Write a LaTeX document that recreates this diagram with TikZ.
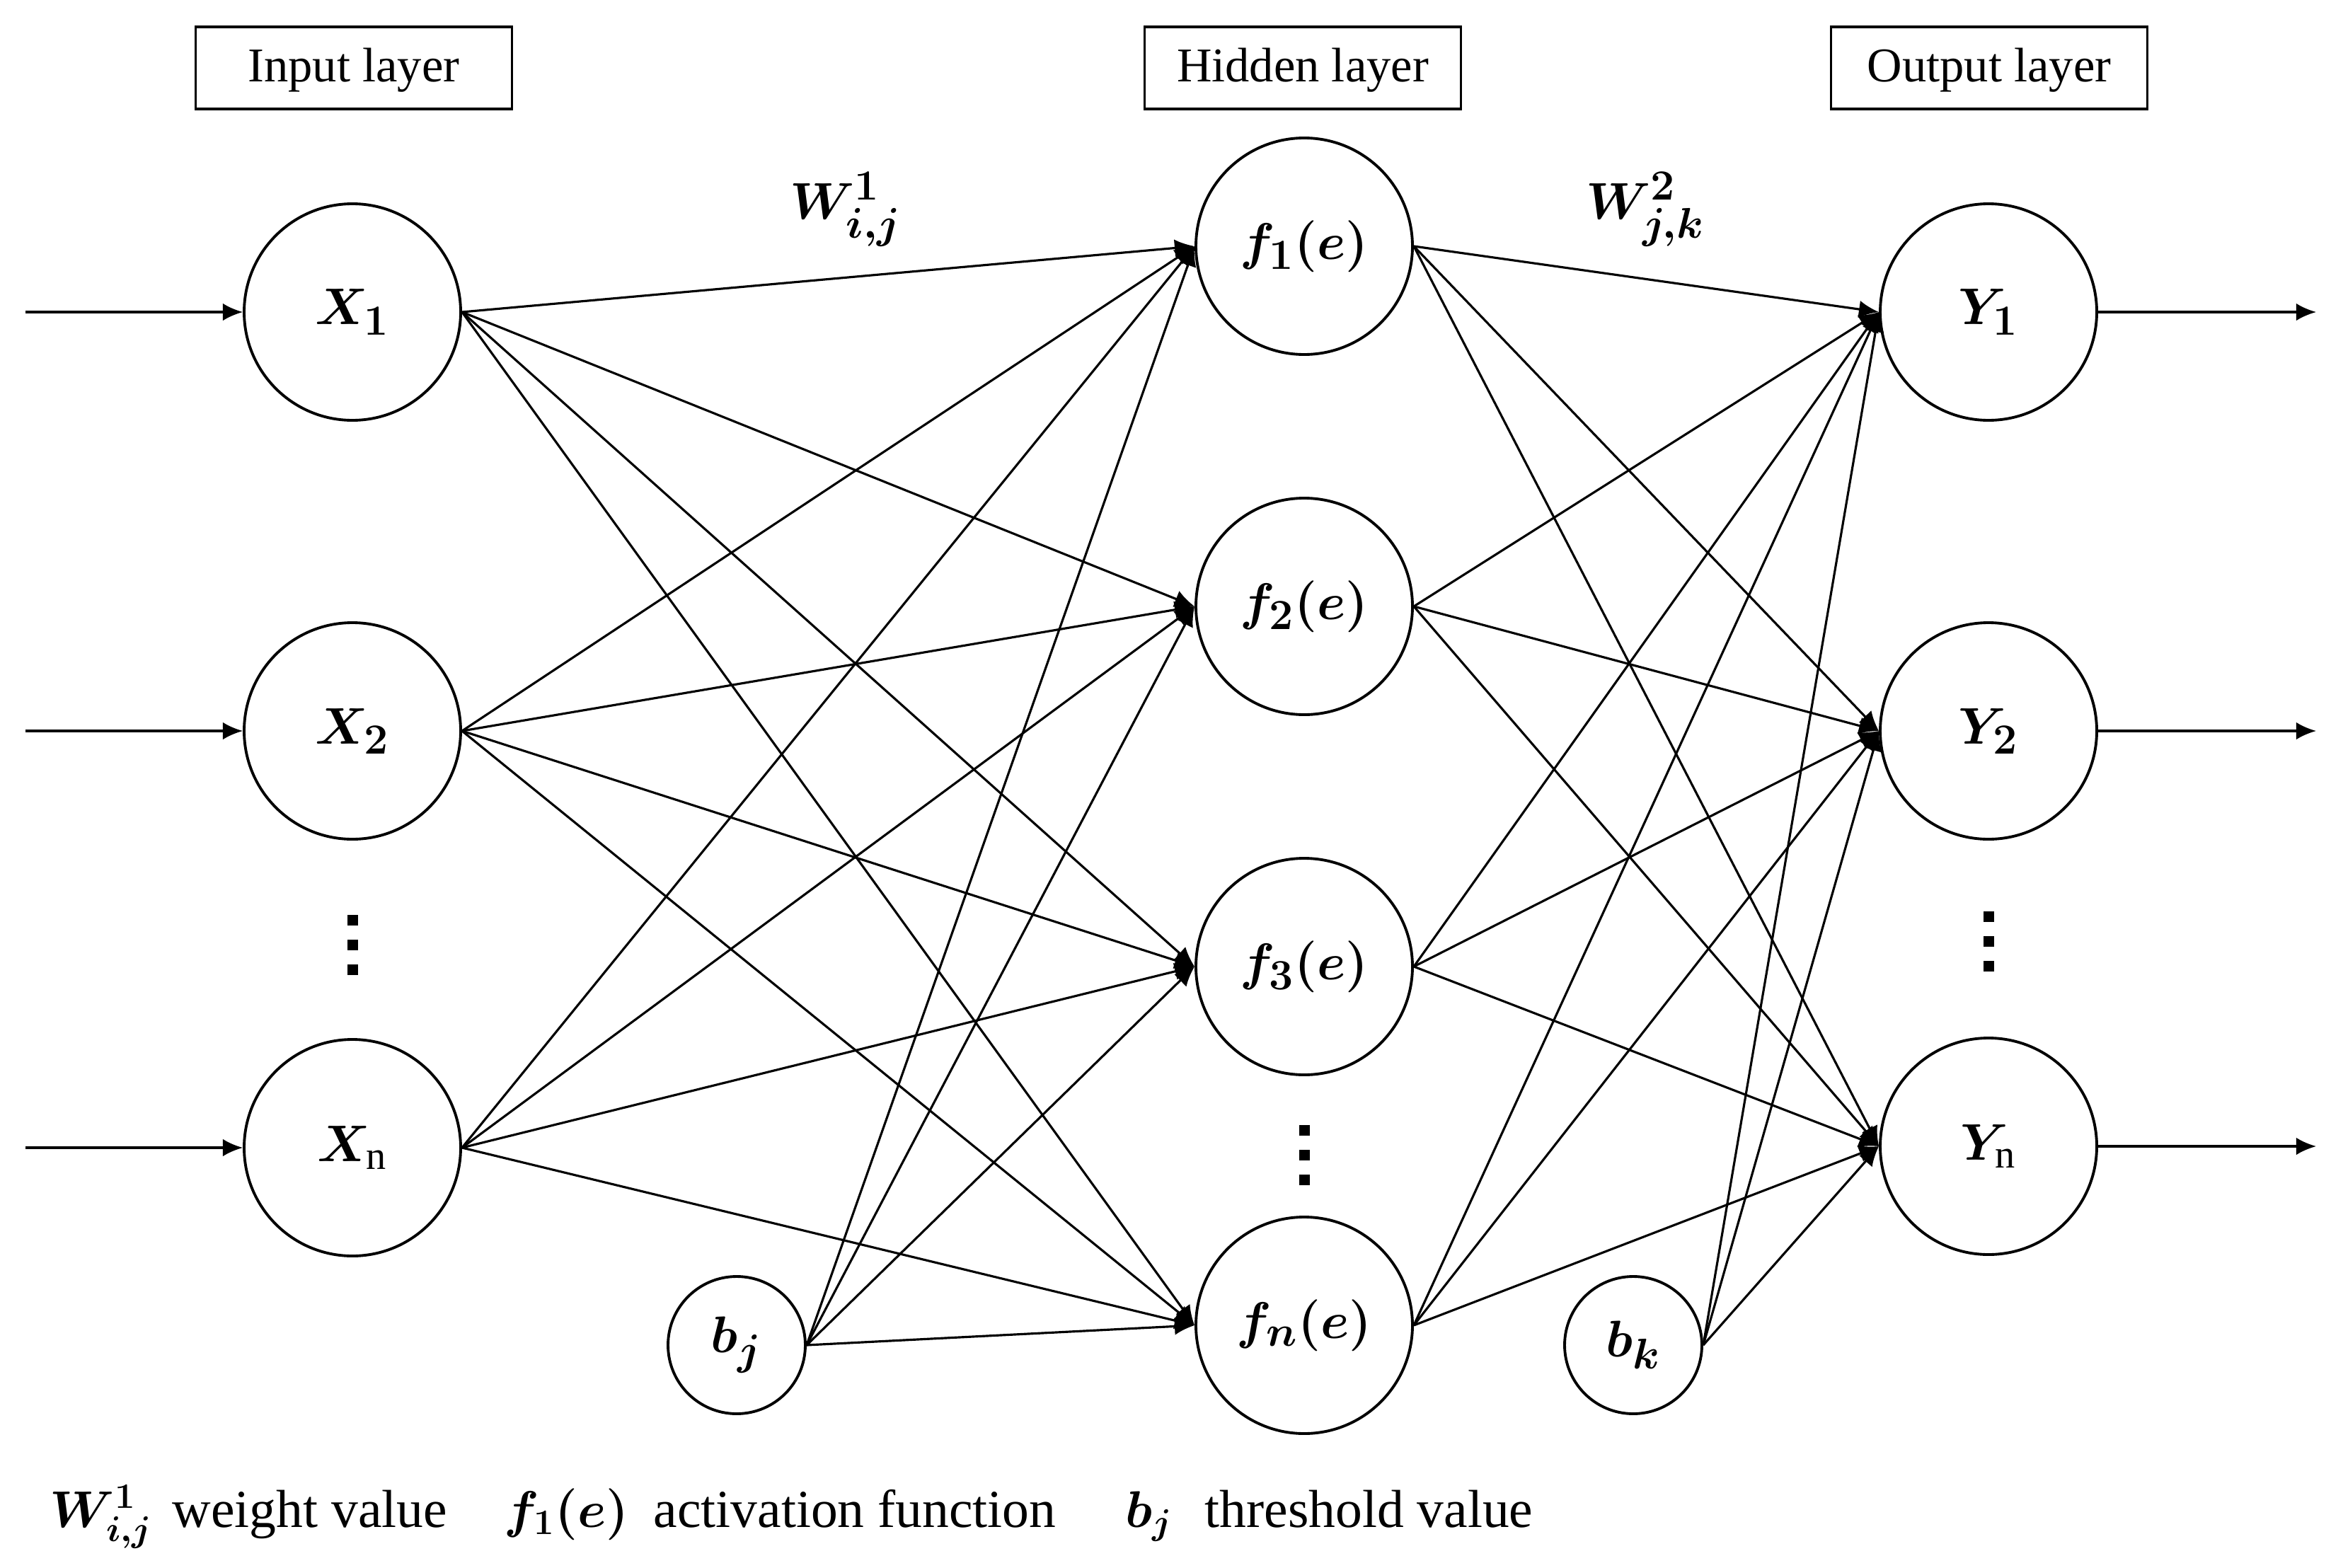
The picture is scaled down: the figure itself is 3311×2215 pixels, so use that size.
\documentclass[tikz,border=0pt]{standalone}
\usepackage{fontspec}
\setmainfont{Liberation Serif}
\usepackage{amsmath}
\usepackage{bm}
\DeclareMathSizes{22}{22}{16}{12}
\DeclareMathSizes{21.5}{21.5}{15.5}{11}
\usetikzlibrary{arrows.meta}
\begin{document}
\begin{tikzpicture}[x=0.1mm,y=-0.1mm,
  neuron/.style={draw,circle,line width=1.1pt,minimum size=30.6mm,inner sep=0pt,font=\fontsize{22}{26}\selectfont},
  bias/.style={draw,circle,line width=1.1pt,minimum size=19.4mm,inner sep=0pt,font=\fontsize{22}{26}\selectfont},
  layerbox/.style={draw,line width=1pt,minimum width=44.7mm,minimum height=11.6mm,inner sep=0pt,text depth=0.5ex,font=\fontsize{19.5}{23}\selectfont},
  conn/.style={line width=0.9pt,-{Latex[length=8pt,width=7pt]}},
  mathlbl/.style={inner sep=0pt,font=\fontsize{22}{26}\selectfont},
  legendtxt/.style={anchor=base west,inner sep=0pt,font=\fontsize{21.5}{25}\selectfont}]
\useasboundingbox (0,0) rectangle (3311,2215);
\fill[white] (0,0) rectangle (3311,2215);

% layer titles
\node[layerbox] (tin)  at (500,96)  {Input layer};
\node[layerbox] (thid) at (1841,96) {Hidden layer};
\node[layerbox] (tout) at (2811,96) {Output layer};

% input nodes
\node[neuron] (x1) at (498,441)  {$\bm{X_1}$};
\node[neuron] (x2) at (498,1033) {$\bm{X_2}$};
\node[neuron] (xn) at (498,1622) {$\bm{X}_{\mathrm{n}}$};

% hidden nodes
\node[neuron] (f1) at (1843,348)  {$\bm{f_1(e)}$};
\node[neuron] (f2) at (1843,857)  {$\bm{f_2(e)}$};
\node[neuron] (f3) at (1843,1366) {$\bm{f_3(e)}$};
\node[neuron] (fn) at (1843,1873) {$\bm{f_n(e)}$};

% output nodes
\node[neuron] (y1) at (2810,441)  {$\bm{Y_1}$};
\node[neuron] (y2) at (2810,1033) {$\bm{Y_2}$};
\node[neuron] (yn) at (2810,1620) {$\bm{Y}_{\mathrm{n}}$};

% bias nodes
\node[bias] (bj) at (1041,1901) {$\bm{b_j}$};
\node[bias] (bk) at (2308,1901) {$\bm{b_k}$};

% weight labels
\node[mathlbl] (w1) at (1195,296) {$\bm{W^{1}_{i,j}}$};
\node[mathlbl] (w2) at (2325,296) {$\bm{W^{2}_{j,k}}$};

% vertical dots
\foreach \cx/\cy in {498/1335, 1843/1632, 2810/1330}{
  \foreach \dy in {-35,0,35}{
    \fill (\cx-7.5,\cy+\dy-7.5) rectangle (\cx+7.5,\cy+\dy+7.5);
  }
}

% input and output arrows
\coordinate (i1) at (36,441);
\coordinate (i2) at (36,1033);
\coordinate (i3) at (36,1622);
\coordinate (o1) at (3273,441);
\coordinate (o2) at (3273,1033);
\coordinate (o3) at (3273,1620);
\draw[conn] (i1) -- (x1.west);
\draw[conn] (i2) -- (x2.west);
\draw[conn] (i3) -- (xn.west);
\draw[conn] (y1.east) -- (o1);
\draw[conn] (y2.east) -- (o2);
\draw[conn] (yn.east) -- (o3);

% input -> hidden
\foreach \s in {x1,x2,xn,bj}{
  \foreach \t in {f1,f2,f3,fn}{
    \draw[conn] (\s.east) -- (\t.west);
  }
}
% hidden -> output
\foreach \s in {f1,f2,f3,fn,bk}{
  \foreach \t in {y1,y2,yn}{
    \draw[conn] (\s.east) -- (\t.west);
  }
}

% legend
\node[legendtxt] (lw)  at (70,2158)   {$\bm{W^{1}_{i,j}}$};
\node[legendtxt] (lwt) at (243,2158)  {weight value};
\node[legendtxt] (lf)  at (712,2158)  {$\bm{f_1(e)}$};
\node[legendtxt] (lft) at (923,2158)  {activation function};
\node[legendtxt] (lb)  at (1590,2158) {$\bm{b_j}$};
\node[legendtxt] (lbt) at (1702,2158) {threshold value};
\end{tikzpicture}
\end{document}
